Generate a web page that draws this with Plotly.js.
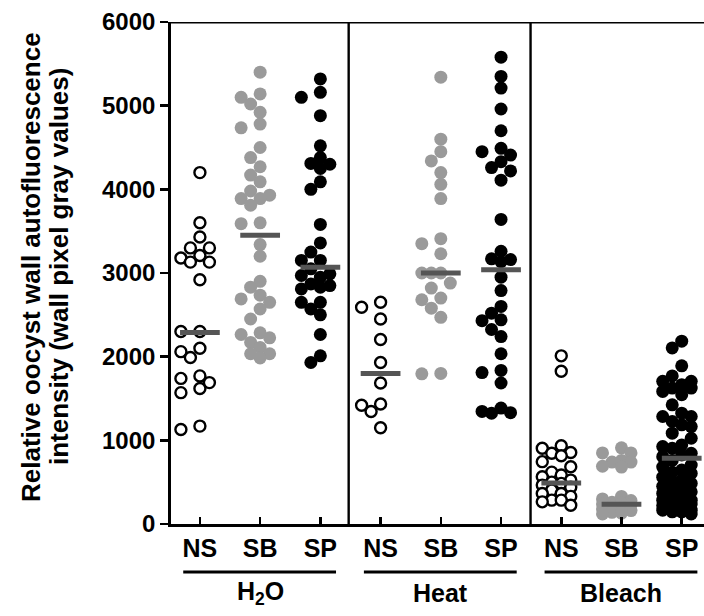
<!DOCTYPE html>
<html>
<head>
<meta charset="utf-8">
<script src="https://cdn.plot.ly/plotly-3.0.1.min.js"></script>
<style>html,body{margin:0;padding:0;background:#fff;}#chart{width:704px;height:616px;}</style>
</head>
<body>
<div id="chart"></div>
<script>
// ---- data ----
var categories = ["NS", "SB", "SP", "NS", "SB", "SP", "NS", "SB", "SP"];
var treatments = ["H<sub>2</sub>O", "Heat", "Bleach"];

var h2oNS = [4200, 3600, 3430, 3300, 3300, 3210, 3180, 3130, 3130, 2920, 2300, 2300, 2100, 2060, 1990, 1770, 1740, 1690, 1620, 1570, 1170, 1130];
var h2oSB = [5400, 5140, 5100, 5020, 4920, 4780, 4735, 4500, 4380, 4270, 4170, 4090, 3980, 3930, 3890, 3890, 3810, 3600, 3590, 3340, 3200, 2900, 2830, 2735, 2690, 2650, 2570, 2450, 2285, 2265, 2225, 2170, 2110, 2035, 2035, 1985];
var h2oSP = [5320, 5160, 5100, 4880, 4520, 4380, 4310, 4300, 4250, 4090, 4000, 3580, 3360, 3250, 3150, 3150, 3050, 2990, 2970, 2950, 2870, 2850, 2830, 2810, 2650, 2650, 2570, 2500, 2265, 2010, 1930];
var heatNS = [2650, 2590, 2450, 2205, 1930, 1685, 1435, 1420, 1345, 1150];
var heatSB = [5340, 4600, 4450, 4340, 4200, 4060, 3890, 3410, 3350, 3230, 3000, 3000, 3000, 2880, 2820, 2700, 2680, 2580, 2470, 1800, 1795];
var heatSP = [5580, 5350, 5210, 4960, 4700, 4490, 4450, 4410, 4330, 4260, 4220, 4110, 3640, 3260, 3170, 3160, 3135, 2950, 2790, 2600, 2520, 2440, 2430, 2325, 2240, 2035, 1835, 1810, 1685, 1385, 1345, 1330, 1325];
var bleachNS = [2010, 1825, 935, 905, 855, 845, 815, 745, 685, 620, 585, 565, 525, 500, 485, 465, 440, 405, 365, 365, 330, 285, 285, 265, 225];
var bleachSB = [910, 850, 850, 760, 740, 740, 690, 680, 330, 300, 280, 260, 250, 240, 230, 210, 200, 180, 160, 140, 130, 120];
var bleachSP = [2185, 2105, 1890, 1770, 1705, 1705, 1665, 1625, 1625, 1585, 1545, 1425, 1325, 1285, 1285, 1225, 1185, 1165, 1085, 1025, 945, 925, 905, 845, 825, 805, 760, 705, 680, 645, 620, 605, 560, 525, 505, 485, 450, 430, 405, 385, 365, 330, 310, 285, 285, 265, 265, 240, 220, 200, 180, 165, 165, 145, 145, 120];
var medians = [2290, 3450, 3070, 1800, 3000, 3040, 490, 235, 785];

var groups = [h2oNS, h2oSB, h2oSP, heatNS, heatSB, heatSP, bleachNS, bleachSB, bleachSP];
var kinds = ["open", "gray", "black", "open", "gray", "black", "open", "gray", "black"];

// ---- layout geometry ----
var W = 704, H = 616;
var mL = 171, mR = 0, mT = 22, mB = 92;
var xMin = -0.48, xMax = 8.37;
var yMax = 6000;
var pxPerX = (W - mL - mR) / (xMax - xMin);
var pxPerY = (H - mT - mB) / yMax;

// column scatter offsets computed from the values (GraphPad-like)
function swarm(vals) {
  var idx = vals.map(function (v, i) { return i; });
  idx.sort(function (a, b) { return vals[b] - vals[a]; });
  var placed = [];
  var off = new Array(vals.length);
  var step = 9.5, D = 11;
  var order = [0, -1, 1, -2];
  idx.forEach(function (i) {
    var yp = vals[i] * pxPerY;
    var best = null, bestD = -1;
    for (var k = 0; k < order.length; k++) {
      var xp = order[k] * step;
      var md = Infinity;
      placed.forEach(function (p) {
        var dx = p[0] - xp, dy = p[1] - yp;
        md = Math.min(md, Math.sqrt(dx * dx + dy * dy));
      });
      if (md >= D) { best = xp; break; }
      if (md > bestD + 0.5) { bestD = md; best = xp; }
    }
    placed.push([best, yp]);
    off[i] = best / pxPerX;
  });
  return off;
}

var styles = {
  open: {color: "#ffffff", size: 11, line: {color: "#000000", width: 2.4}},
  gray: {color: "#9a9a9a", size: 13, line: {width: 0}},
  black: {color: "#000000", size: 13, line: {width: 0}}
};

var traces = [];
groups.forEach(function (vals, g) {
  var off = swarm(vals);
  traces.push({
    type: "scatter", mode: "markers",
    x: vals.map(function (v, i) { return g + off[i]; }),
    y: vals,
    marker: styles[kinds[g]],
    cliponaxis: false,
    hoverinfo: "y", showlegend: false
  });
});
medians.forEach(function (m, g) {
  traces.push({
    type: "scatter", mode: "lines",
    x: [g - 0.33, g + 0.33], y: [m, m],
    line: {color: "#555555", width: 5},
    hoverinfo: "skip", showlegend: false
  });
});

var fam = "Liberation Sans, Arial, sans-serif";
var tickFontY = {family: fam, size: 24, color: "#000", weight: "bold"};
var tickFontX = {family: fam, size: 25, color: "#000", weight: "bold"};
var groupFont = {family: fam, size: 25, color: "#000", weight: "bold"};
var titleFont = {family: fam, size: 26, color: "#000", weight: "bold"};

var shapes = [
  {type: "line", xref: "paper", yref: "y", x0: 0, x1: 1, y0: 6000, y1: 6000, line: {color: "#000", width: 2.8}},
  {type: "line", xref: "x", yref: "y", x0: 2.47, x1: 2.47, y0: 0, y1: 6000, line: {color: "#000", width: 2.4}},
  {type: "line", xref: "x", yref: "y", x0: 5.49, x1: 5.49, y0: 0, y1: 6000, line: {color: "#000", width: 2.4}}
];
var annotations = [];
var plotH = H - mT - mB, plotW = W - mL - mR;
function py(pix) { return ((H - mB) - pix) / plotH; }
function px(pix) { return (pix - mL) / plotW; }
treatments.forEach(function (t, k) {
  var c = 3 * k + 1;
  shapes.push({type: "line", xref: "x", yref: "paper", x0: c - 1.277, x1: c + 1.26, y0: py(572), y1: py(572), line: {color: "#000", width: 3}});
  annotations.push({xref: "x", yref: "paper", x: c, y: py(593), text: t, showarrow: false, font: groupFont, yanchor: "middle"});
});
annotations.push({
  xref: "paper", yref: "paper", x: px(31), y: py(267),
  text: "Relative oocyst wall autofluorescence",
  textangle: -90, showarrow: false, font: titleFont,
  xanchor: "center", yanchor: "middle"
});
annotations.push({
  xref: "paper", yref: "paper", x: px(59), y: py(267),
  text: "intensity (wall pixel gray values)",
  textangle: -90, showarrow: false, font: titleFont,
  xanchor: "center", yanchor: "middle"
});

var layout = {
  width: W, height: H,
  margin: {l: mL, r: mR, t: mT, b: mB, pad: 0},
  paper_bgcolor: "#fff", plot_bgcolor: "#fff",
  showlegend: false,
  xaxis: {
    range: [xMin, xMax], tickmode: "array",
    tickvals: categories.map(function (c, i) { return i; }),
    ticktext: categories,
    ticks: "inside", ticklen: 7, tickwidth: 2.6, tickcolor: "#000",
    showline: true, linecolor: "#000", linewidth: 2.8,
    showgrid: false, zeroline: false, tickfont: tickFontX, fixedrange: true
  },
  yaxis: {
    range: [0, yMax], tickmode: "array",
    tickvals: [0, 1000, 2000, 3000, 4000, 5000, 6000],
    ticks: "outside", ticklen: 8, tickwidth: 2.6, tickcolor: "#000",
    showline: true, linecolor: "#000", linewidth: 2.8,
    showgrid: false, zeroline: false, tickfont: tickFontY, fixedrange: true
  },
  shapes: shapes,
  annotations: annotations
};

Plotly.newPlot("chart", traces, layout, {staticPlot: true, displayModeBar: false});
</script>
</body>
</html>
